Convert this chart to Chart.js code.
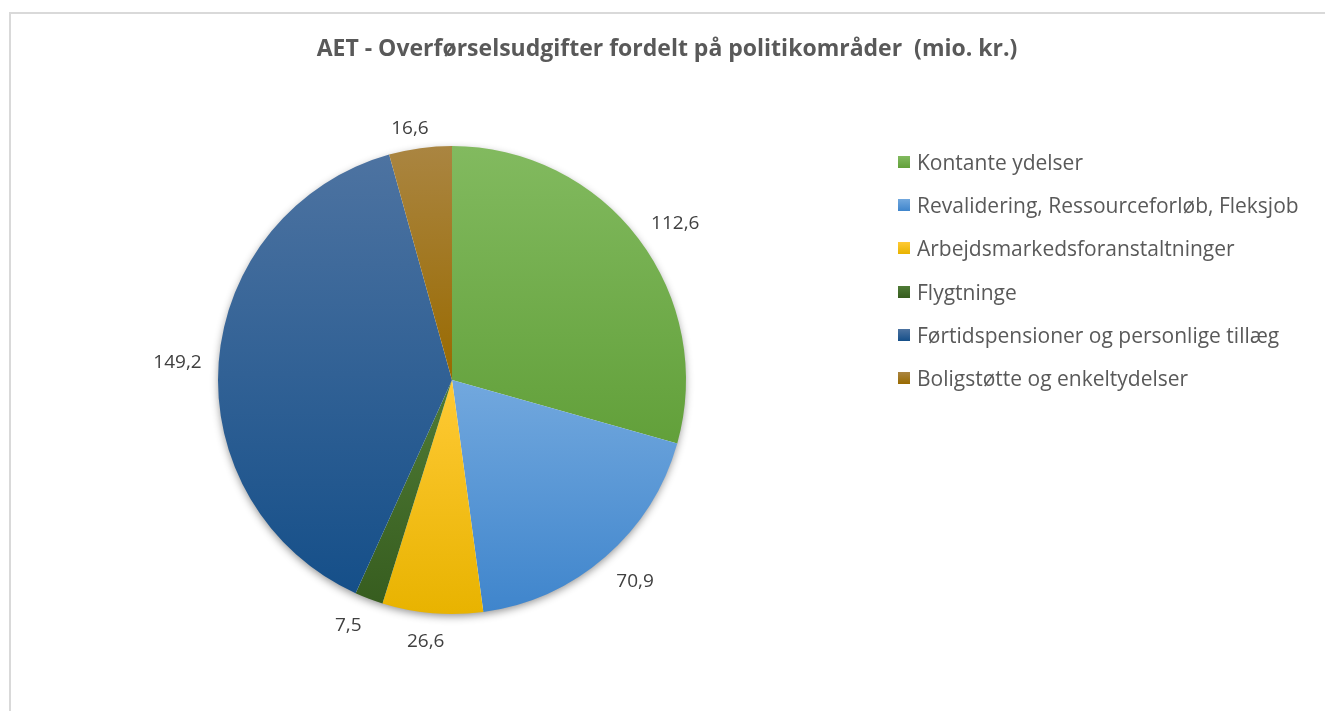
<!DOCTYPE html>
<html><head><meta charset="utf-8">
<script src="https://cdn.jsdelivr.net/npm/chart.js@4.4.1/dist/chart.umd.min.js"></script>
<style>
html,body{margin:0;padding:0;background:#fff;overflow:hidden;width:1325px;height:711px;}
#frame{position:absolute;left:9px;top:12px;width:1340px;height:720px;border:2px solid #d9d9d9;box-sizing:border-box;}
#c{position:absolute;left:0;top:0;}
#title{position:absolute;left:0;width:1334px;top:31px;text-align:center;font:bold 23px 'Open Sans';color:#595959;white-space:pre;line-height:32px}
#legend{position:absolute;left:898px;top:140px;font:21px 'Open Sans';color:#595959;}
.row{height:43.3px;display:flex;align-items:center;white-space:nowrap}
.sw{width:12px;height:12px;margin-right:7px;flex:none}
</style>
</head><body>
<div id="frame"></div>
<canvas id="c" width="1325" height="711"></canvas>
<div id="title"></div>
<div id="legend"></div>
<script>
const titleText = 'AET - Overførselsudgifter fordelt på politikområder  (mio. kr.)';
const categories = ['Kontante ydelser','Revalidering, Ressourceforløb, Fleksjob','Arbejdsmarkedsforanstaltninger','Flygtninge','Førtidspensioner og personlige tillæg','Boligstøtte og enkeltydelser'];
const values = [112.6, 70.9, 26.6, 7.5, 149.2, 16.6];
const valueLabels = ['112,6','70,9','26,6','7,5','149,2','16,6'];
const topColors = ['#82ba5f','#72a8de','#ffca36','#4f7b36','#4d73a1','#aa8541'];
const bottomColors = ['#62a03a','#3f85cc','#e8b300','#375d1f','#154f89','#996a00'];
const legendColors = ['#70ad47','#5b9bd5','#ffc000','#43682b','#255e91','#9e7a23'];

document.getElementById('title').textContent = titleText;
const lg = document.getElementById('legend');
categories.forEach((c,i)=>{
  const r=document.createElement('div'); r.className='row';
  const s=document.createElement('div'); s.className='sw';
  s.style.background='linear-gradient('+topColors[i]+','+bottomColors[i]+')';
  const t=document.createElement('span'); t.textContent=c;
  r.appendChild(s); r.appendChild(t); lg.appendChild(r);
});

const total = values.reduce((a,b)=>a+b,0);
function sliceGradient(ctx){
  const chart = ctx.chart, ca = chart.chartArea, i = ctx.dataIndex;
  if(!ca) return legendColors[i];
  const cx=(ca.left+ca.right)/2, cy=(ca.top+ca.bottom)/2, r=Math.min(ca.width,ca.height)/2;
  let s=-Math.PI/2;
  for(let j=0;j<i;j++) s+=values[j]/total*Math.PI*2;
  const e=s+values[i]/total*Math.PI*2;
  let ymin=cy, ymax=cy;
  for(let k=0;k<=60;k++){const a=s+(e-s)*k/60; const y=cy+r*Math.sin(a); ymin=Math.min(ymin,y); ymax=Math.max(ymax,y);}
  const g=chart.ctx.createLinearGradient(0,ymin,0,ymax);
  g.addColorStop(0,topColors[i]); g.addColorStop(1,bottomColors[i]);
  return g;
}

const shadowPlugin = {
  id:'shadow',
  beforeDatasetsDraw(chart){
    const a=chart.getDatasetMeta(0).data[0]; if(!a) return;
    const ctx=chart.ctx; ctx.save();
    ctx.shadowColor='rgba(0,0,0,0.45)'; ctx.shadowBlur=9; ctx.shadowOffsetX=0; ctx.shadowOffsetY=3;
    ctx.fillStyle='#ffffff'; ctx.beginPath(); ctx.arc(a.x,a.y,a.outerRadius-1,0,Math.PI*2); ctx.fill();
    ctx.restore();
  }
};
const clamp=(v)=>Math.max(-1,Math.min(1,v));
const labelPlugin = {
  id:'outLabels',
  afterDatasetsDraw(chart){
    const ctx=chart.ctx; ctx.save();
    ctx.font='19px "Open Sans"'; ctx.fillStyle='#404040'; ctx.textAlign='center'; ctx.textBaseline='middle';
    chart.getDatasetMeta(0).data.forEach((a,i)=>{
      const m=(a.startAngle+a.endAngle)/2, c=Math.cos(m), s=Math.sin(m);
      const d=a.outerRadius+12;
      const w=ctx.measureText(valueLabels[i]).width+8, h=24;
      const x=a.x+c*d+clamp(c*2.5)*w/2-1, y=a.y+s*d+clamp(s*2.5)*h/2+4;
      ctx.fillText(valueLabels[i], x, y);
    });
    ctx.restore();
  }
};

new Chart(document.getElementById('c'),{
  type:'pie',
  data:{labels:categories,datasets:[{data:values,backgroundColor:sliceGradient,borderWidth:0}]},
  options:{
    responsive:false, animation:false,
    layout:{padding:{left:218,right:639,top:146,bottom:97}},
    plugins:{legend:{display:false},tooltip:{enabled:false},title:{display:false}}
  },
  plugins:[shadowPlugin,labelPlugin]
});
</script>
</body></html>
